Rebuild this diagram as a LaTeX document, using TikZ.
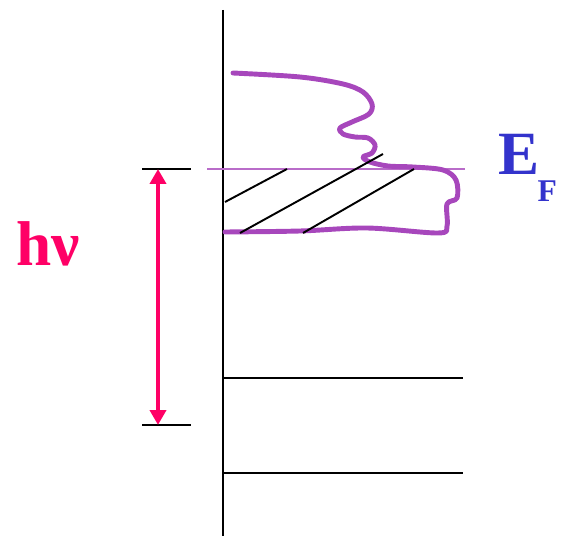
\documentclass[tikz,border=0pt]{standalone}
\usepackage{fontspec}
\setmainfont{Liberation Serif}
\usetikzlibrary{arrows.meta}
\definecolor{photcol}{HTML}{FF0066}
\definecolor{fermicol}{HTML}{3333CC}
\definecolor{doscol}{HTML}{A747BC}

\begin{document}
\begin{tikzpicture}[
  x=0.02cm, y=-0.02cm, line cap=butt,
  axis/.style={black, line width=1.1pt},
  lvl/.style={black, line width=1.1pt},
  tickln/.style={black, line width=1.6pt},
  hatch/.style={black, line width=1.1pt},
  dos/.style={doscol, line width=2.8pt, line join=round, line cap=round},
  fermi/.style={doscol!80, line width=1pt},
  photon/.style={photcol, line width=2.8pt,
                 {Triangle[length=0.3cm,width=0.32cm]}-{Triangle[length=0.3cm,width=0.32cm]}},
  lbl/.style={font=\bfseries, anchor=base west, inner sep=0pt}]

\useasboundingbox (0,0) rectangle (563,536);

\def\xax{223}   % energy axis
\def\xend{463}  % right end of the levels
\def\yf{169}    % Fermi level

% ---------------------------------------------------------------- axis and core levels
\draw[axis] (\xax,10) -- (\xax,536);
\draw[lvl] (\xax,378) -- (\xend,378);
\draw[lvl] (\xax,473) -- (\xend,473);

% ---------------------------------------------------------------- Fermi level
\draw[fermi] (207,\yf) -- (\xend+2,\yf);

% ---------------------------------------------------------------- valence band
\draw[dos] plot[smooth, tension=0.55] coordinates {
  (233,73) (300,77) (343,84) (363,92) (372,104) (369,114) (352,122)
  (340,128) (343,134) (355,137) (368,138) (375,145) (372,153) (363,157)
  (370,162) (388,166) (413,167) (443,170) (456,180) (457,198) (447,204)
  (447,226) (438,233) (367,228) (300,231) (225,232)};

% occupied states
\draw[hatch] (\xax+2,202) -- (287,\yf);
\draw[hatch] (240,233) -- (383,154);
\draw[hatch] (303,233) -- (414,\yf);

% ---------------------------------------------------------------- photon energy
\coordinate (hvtop) at (158,\yf);
\coordinate (hvbot) at (158,425);
\draw[tickln] (142,\yf) -- (191,\yf);
\draw[tickln] (142,425) -- (191,425);
\draw[photon] (hvtop) -- (hvbot);

% ---------------------------------------------------------------- labels
\node[lbl, text=photcol, font=\fontsize{36}{36}\selectfont\bfseries]
  (hv) at (16,265) {hν};
\node[lbl, text=fermicol, font=\fontsize{35}{35}\selectfont\bfseries]
  (ef) at (498,175) {E\kern-1pt\raisebox{-15pt}{\fontsize{18}{18}\selectfont F}};

\end{tikzpicture}
\end{document}
